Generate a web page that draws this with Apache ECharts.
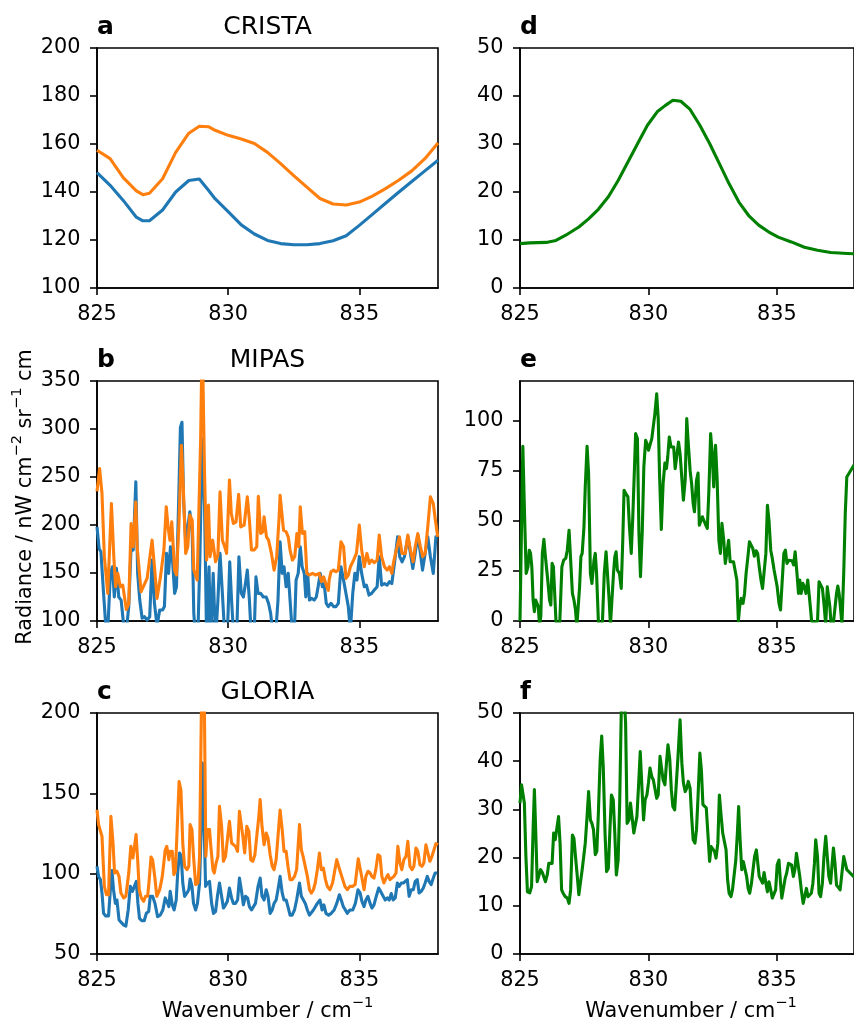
<!DOCTYPE html>
<html><head><meta charset="utf-8">
<script src="https://cdn.jsdelivr.net/npm/echarts@6/dist/echarts.min.js"></script>
<style>html,body{margin:0;padding:0;background:#fff}#c{width:854px;height:1018px}</style>
</head><body><div id="c"></div>
<script>
// ---------------- data ----------------
const xTicks = [825, 830, 835];
const yTicksA = [100, 120, 140, 160, 180, 200];
const yTicksB = [100, 150, 200, 250, 300, 350];
const yTicksC = [50, 100, 150, 200];
const yTicksD = [0, 10, 20, 30, 40, 50];
const yTicksE = [0, 25, 50, 75, 100];
const yTicksF = [0, 10, 20, 30, 40, 50];

const cristaWn = [825,825.5,826,826.5,826.75,827,827.5,828,828.5,828.9,829.25,829.5,830,830.5,831,831.5,832,832.5,833,833.5,834,834.5,835,835.5,836,836.5,837,837.5,838];
const cristaBlue = [148.1,142.8,136.5,129.5,128,128,132.5,140,144.8,145.4,140.7,137.2,131.8,126.3,122.5,119.8,118.5,118,118,118.5,119.7,121.8,126.1,130.7,135.3,139.9,144.4,148.8,153.2];
const cristaOrange = [157.4,153.9,146,140.5,138.9,139.5,145.5,156.5,164.5,167.4,167.2,165.7,163.6,162.1,160.2,156.5,151.8,146.8,142,137.3,135,134.6,135.8,138.3,141.4,144.9,148.8,153.9,160.4];

const cristaDiff = [[825.00,9.24],[825.38,9.4],[826.02,9.5],[826.40,9.9],[826.78,11],[827.29,12.7],[827.67,14.4],[828.05,16.4],[828.44,19],[828.82,22.4],[829.20,26.25],[829.58,30.1],[829.96,33.9],[830.34,36.7],[830.66,38.05],[830.95,39.1],[831.26,38.9],[831.62,37.2],[832.00,33.9],[832.38,30.1],[832.76,25.9],[833.14,21.7],[833.52,17.9],[833.90,15.1],[834.29,13.1],[834.67,11.7],[835.05,10.6],[835.56,9.6],[836.07,8.5],[836.58,7.85],[837.09,7.4],[837.75,7.2],[838.00,7.15]];

const mipasBlue = [[825.00,198],[825.08,175.6],[825.15,172],[825.25,128.8],[825.36,85],[825.41,90],[825.51,149.6],[825.59,156.5],[825.66,125],[825.74,154.8],[825.83,125],[825.92,121.8],[826.02,95],[826.12,90],[826.21,115],[826.30,177.3],[826.38,173.9],[826.48,245],[826.55,149.6],[826.63,121.8],[826.72,102.8],[826.81,104.5],[826.91,101],[827.01,104.5],[827.10,163.5],[827.19,118.4],[827.29,95],[827.39,111.4],[827.50,111.4],[827.57,115],[827.65,170.4],[827.73,149.6],[827.80,177.3],[827.88,163.5],[827.96,128.8],[828.03,135.7],[828.12,232.8],[828.18,301.5],[828.24,307],[828.30,226],[828.39,177.3],[828.46,198],[828.54,213.7],[828.63,191.2],[828.69,108],[828.77,80],[828.85,90],[828.92,163.5],[829.01,290],[829.10,219],[829.18,80],[829.27,156.5],[829.33,80],[829.43,149.6],[829.52,80],[829.61,121.8],[829.69,170.4],[829.78,128.8],[829.87,85],[829.97,85],[830.06,161.7],[830.13,121.8],[830.22,80],[830.32,80],[830.41,167],[830.50,128.8],[830.58,125],[830.66,139],[830.73,153],[830.81,121.8],[830.89,80],[830.99,85],[831.06,146],[831.14,128.8],[831.24,128.8],[831.34,125],[831.45,125],[831.54,118.4],[831.62,108],[831.73,80],[831.82,90],[831.90,121.8],[831.98,182.5],[832.06,149.6],[832.13,156.5],[832.21,135.7],[832.29,149.6],[832.36,121.8],[832.44,90],[832.52,85],[832.59,142.6],[832.67,149.6],[832.75,177.3],[832.82,156.5],[832.90,149.6],[832.96,125],[833.03,149.6],[833.10,121.8],[833.18,123.6],[833.28,121.8],[833.36,125],[833.43,135.7],[833.51,149.6],[833.59,135.7],[833.66,139],[833.74,118.4],[833.82,115],[833.92,118.4],[834.02,115],[834.11,115],[834.20,118.4],[834.30,156.5],[834.40,142.6],[834.49,128.8],[834.58,115],[834.66,90],[834.75,128.8],[834.83,149.6],[834.91,142.6],[835.00,167],[835.09,149.6],[835.19,135.7],[835.27,137.4],[835.37,127],[835.47,128.8],[835.57,132.2],[835.68,135.7],[835.76,167],[835.85,137.4],[835.96,139],[836.06,137.4],[836.15,140.9],[836.24,139],[836.34,160],[836.46,187.7],[836.54,167],[836.63,161.7],[836.72,167],[836.85,187.7],[836.95,170.4],[837.04,154.8],[837.13,170.4],[837.23,189.5],[837.33,170.4],[837.41,153],[837.48,153],[837.61,187.7],[837.71,167],[837.82,149.6],[837.92,187.7],[837.99,187.7]];

const mipasOrange = [[825.00,235],[825.10,258.8],[825.19,232.8],[825.28,167],[825.41,128.8],[825.55,222.4],[825.64,167],[825.71,135.7],[825.79,149.6],[825.89,135.7],[825.98,137.4],[826.12,112],[826.21,118],[826.30,201.6],[826.38,177.3],[826.48,224],[826.53,177.3],[826.68,130.5],[826.91,144.4],[827.10,184.2],[827.19,156.5],[827.29,123.6],[827.42,146],[827.55,173.9],[827.64,219],[827.71,198],[827.78,184],[827.85,203.3],[827.96,153],[828.03,147.9],[828.12,198],[828.22,283],[828.29,239.7],[828.38,170.4],[828.46,177.3],[828.54,210.3],[828.63,205],[828.69,153],[828.82,142.6],[828.95,288],[829.01,400],[829.10,253.6],[829.18,163.5],[829.25,220.7],[829.31,167],[829.41,184.2],[829.52,161.7],[829.61,168.7],[829.69,234.5],[829.78,184.2],[829.87,177.3],[829.94,170.4],[830.05,246.7],[830.12,212],[830.20,201.6],[830.30,203.3],[830.40,232],[830.48,198],[830.61,199.9],[830.73,229.3],[830.81,205],[830.89,173.9],[830.99,173.9],[831.09,177.3],[831.15,230],[831.24,191.2],[831.32,193],[831.37,208.5],[831.46,187.7],[831.54,184.2],[831.65,170.4],[831.75,153],[831.85,167],[831.94,206.8],[831.98,231],[832.11,194.7],[832.21,193],[832.29,187.7],[832.36,173.9],[832.45,163.5],[832.54,167],[832.62,191.2],[832.69,177.3],[832.75,219],[832.83,191.2],[832.92,193],[833.00,149.6],[833.09,147.9],[833.22,149.6],[833.34,147.9],[833.47,149.6],[833.56,140.9],[833.64,146],[833.76,135.7],[833.82,132],[833.85,142.6],[833.92,151.3],[834.02,153],[834.11,151.3],[834.20,153],[834.30,182.5],[834.40,177.3],[834.49,144.4],[834.58,147.9],[834.66,156.5],[834.78,163.5],[834.89,170.4],[835.00,199.9],[835.09,173.9],[835.19,156.5],[835.29,170.4],[835.38,160],[835.47,163.5],[835.57,160.7],[835.68,163.5],[835.76,189.5],[835.85,167],[835.96,156.5],[836.06,153],[836.15,156.5],[836.24,149.6],[836.31,161.7],[836.44,177.3],[836.53,187.7],[836.63,170.4],[836.75,170.4],[836.85,189.5],[836.95,173.9],[837.05,161.7],[837.13,177.3],[837.23,191.2],[837.33,177.3],[837.42,167],[837.51,170.4],[837.61,198],[837.71,229.3],[837.82,222.4],[837.90,205],[837.99,187.7]];

const mipasDiff = [[825.00,0],[825.11,87.4],[825.19,47],[825.24,23.8],[825.31,27.1],[825.36,35.4],[825.41,33.8],[825.46,27.1],[825.51,10.5],[825.56,4.7],[825.61,10.5],[825.66,11.3],[825.71,7.2],[825.76,-2],[825.81,2.2],[825.87,33.8],[825.93,40.8],[825.99,32.1],[826.08,20.5],[826.15,10.5],[826.20,8],[826.25,28.8],[826.30,27.1],[826.35,13.8],[826.40,0],[826.48,-5],[826.55,0],[826.63,27.1],[826.70,30.4],[826.78,31.3],[826.84,35.4],[826.91,45.4],[826.98,45.4],[827.04,13.8],[827.10,10.5],[827.16,5.5],[827.21,-3],[827.26,-3],[827.32,17.1],[827.37,32.1],[827.42,33.8],[827.49,47.1],[827.54,67],[827.61,87.4],[827.67,73.7],[827.74,23.8],[827.80,18.8],[827.88,30.4],[827.93,33.8],[827.98,23.8],[828.05,0],[828.13,-5],[828.21,0],[828.28,23.8],[828.35,34.6],[828.41,34.6],[828.47,10.5],[828.52,-2],[828.59,-2],[828.64,23.8],[828.69,32.1],[828.74,34.6],[828.79,25.5],[828.87,23.8],[828.94,16.3],[829.00,40.4],[829.05,65.4],[829.12,63.7],[829.20,62.1],[829.26,47.1],[829.33,33.8],[829.39,52.1],[829.45,74.5],[829.50,93.7],[829.57,91.2],[829.63,43.8],[829.69,22.1],[829.76,45.4],[829.82,77],[829.89,90.3],[829.94,88.7],[830.00,85.4],[830.06,85.4],[830.13,91.2],[830.19,92],[830.25,103.7],[830.32,113.6],[830.38,101.2],[830.43,73.7],[830.50,45.8],[830.57,68.7],[830.64,79],[830.70,76.2],[830.75,82],[830.81,92],[830.88,87],[830.93,87.4],[830.98,87],[831.04,76.2],[831.11,77],[831.17,89.5],[831.23,83.7],[831.30,71.2],[831.36,60.4],[831.43,70.4],[831.49,101.2],[831.55,88.7],[831.62,75.4],[831.68,68.7],[831.74,58.7],[831.79,54.6],[831.87,70.4],[831.93,74],[831.98,47.9],[832.04,47.1],[832.10,52.1],[832.16,52.1],[832.23,47.9],[832.29,46.3],[832.35,64.6],[832.42,93.7],[832.48,83.7],[832.54,67],[832.61,87.9],[832.67,72],[832.74,40.4],[832.80,33.8],[832.86,48.8],[832.93,40.4],[832.99,28.8],[833.05,33.8],[833.12,40.4],[833.18,29.6],[833.24,28.8],[833.31,29.6],[833.37,29.1],[833.44,20.5],[833.50,0],[833.55,7.2],[833.61,11.3],[833.68,8.8],[833.74,13.8],[833.80,23.8],[833.87,32.1],[833.93,39.6],[834.00,38.8],[834.06,36.3],[834.12,32.4],[834.19,35.1],[834.25,33.8],[834.31,27.1],[834.38,20.5],[834.44,16.3],[834.50,16.3],[834.57,33.8],[834.63,57.9],[834.69,50.4],[834.76,35.4],[834.82,31.3],[834.89,25.5],[834.95,25],[835.01,17.1],[835.08,8.8],[835.14,5.5],[835.20,18.8],[835.27,33.8],[835.33,35.4],[835.39,28.8],[835.46,30.4],[835.52,29.6],[835.59,30.1],[835.65,28],[835.71,34.6],[835.78,23.8],[835.84,13.8],[835.89,20.5],[835.94,13.8],[836.01,18.8],[836.07,17.1],[836.13,13.8],[836.20,20.5],[836.25,13.8],[836.30,7.2],[836.35,0],[836.43,-1],[836.50,-1],[836.58,0],[836.64,19.6],[836.70,20.5],[836.77,16.3],[836.83,8.8],[836.90,-2],[836.96,17.1],[837.01,18],[837.06,7.2],[837.11,-2],[837.19,-2],[837.25,-2],[837.32,13.8],[837.37,17.5],[837.42,13.8],[837.47,7.2],[837.53,-2],[837.60,23.8],[837.66,53.7],[837.72,72],[838.00,78]];

const gloriaBlue = [[825.00,104.6],[825.06,98.3],[825.13,96.3],[825.19,88],[825.25,75.3],[825.33,73.7],[825.44,73.7],[825.51,90],[825.57,101.9],[825.63,90],[825.70,81.5],[825.76,83.6],[825.84,71.2],[825.91,70.1],[826.02,68],[826.10,67.4],[826.19,77.4],[826.27,92.1],[826.35,89],[826.42,90],[826.50,95.2],[826.56,81.5],[826.62,72.2],[826.71,70.7],[826.80,70.7],[826.88,75.3],[826.97,76.4],[827.03,85.9],[827.12,85.9],[827.21,81.5],[827.31,73.2],[827.41,74.2],[827.51,77.4],[827.60,84.9],[827.66,82.8],[827.74,79.5],[827.79,89],[827.87,80.6],[827.94,77.4],[828.02,83.6],[828.08,101.5],[828.15,112.9],[828.21,110.8],[828.27,94.2],[828.34,85.9],[828.43,88],[828.50,90],[828.55,96.7],[828.62,92.1],[828.68,81.5],[828.76,77.4],[828.83,81.5],[828.91,94.2],[828.99,137.8],[829.02,168.9],[829.07,139.8],[829.14,92.1],[829.21,94.2],[829.29,95.2],[829.37,81.5],[829.44,75.3],[829.52,76.4],[829.59,85.9],[829.67,94.2],[829.75,85.9],[829.82,78.6],[829.90,80.6],[829.97,82.8],[830.05,91.1],[830.13,84.9],[830.20,81.5],[830.28,81.5],[830.36,83.6],[830.43,97.3],[830.51,89],[830.58,80.6],[830.66,85.9],[830.74,84.9],[830.81,79.5],[830.89,77.4],[830.96,78.6],[831.04,81.5],[831.14,92.1],[831.22,97.3],[831.29,85.9],[831.37,83.6],[831.45,90],[831.52,85.9],[831.60,75.3],[831.68,77.4],[831.75,81.5],[831.83,83.6],[831.90,90],[831.98,98.3],[832.06,88],[832.13,83.6],[832.21,83.6],[832.28,79.5],[832.36,74.2],[832.44,74.2],[832.53,77.4],[832.61,83.6],[832.72,94.2],[832.79,85.9],[832.87,83.6],[832.94,81.5],[833.02,77.4],[833.10,74.2],[833.17,74.2],[833.25,77.4],[833.32,77.4],[833.40,81.5],[833.50,83.6],[833.58,77.4],[833.65,80.6],[833.73,75.3],[833.83,74.2],[833.93,75.3],[834.04,77.4],[834.14,81.5],[834.24,86.9],[834.31,83.6],[834.39,79.5],[834.47,77.4],[834.54,75.3],[834.64,77.4],[834.75,77.4],[834.85,81.5],[834.95,90],[835.03,88],[835.10,82.8],[835.18,79.5],[835.25,83.6],[835.33,85.9],[835.41,81.5],[835.48,78.6],[835.56,80.6],[835.63,84.9],[835.74,91.1],[835.81,89],[835.91,85.9],[835.99,83.6],[836.07,84.9],[836.14,83.6],[836.22,87.6],[836.29,83.6],[836.37,84.9],[836.45,94.2],[836.52,92.1],[836.60,94.2],[836.68,94.2],[836.75,93.2],[836.83,96.3],[836.90,85.9],[836.98,90],[837.06,90],[837.13,95.2],[837.21,96.3],[837.28,88],[837.36,89],[837.44,91.1],[837.51,94.2],[837.59,98.3],[837.66,95.2],[837.74,93.2],[837.82,97.3],[837.89,100.4],[837.97,100.4]];

const gloriaOrange = [[825.00,139.8],[825.06,130.5],[825.13,131.1],[825.19,123.2],[825.28,92.1],[825.36,86.9],[825.44,86.9],[825.53,135.7],[825.61,119.1],[825.67,100.4],[825.76,101.5],[825.84,98.3],[825.91,88],[826.02,84.9],[826.10,85.9],[826.21,100.4],[826.29,117],[826.37,109.8],[826.42,108.7],[826.49,124.3],[826.55,108.7],[826.61,90],[826.69,84.9],[826.78,82.8],[826.85,85.9],[826.93,85.9],[826.98,94.2],[827.06,110.4],[827.12,108.7],[827.20,98.3],[827.28,85.9],[827.39,90],[827.49,98.3],[827.60,114.7],[827.66,117],[827.74,108.7],[827.79,113.9],[827.87,113.9],[827.93,99.4],[827.99,101.5],[828.07,133.4],[828.13,157.3],[828.20,152.1],[828.27,118.9],[828.34,104.6],[828.43,102.5],[828.50,104.6],[828.55,130.5],[828.62,127.4],[828.68,110.8],[828.76,93.2],[828.85,94.2],[828.91,110.8],[828.99,215],[829.09,210],[829.15,110.8],[829.21,127.4],[829.29,127.4],[829.34,117],[829.42,102.5],[829.47,100.4],[829.54,106.6],[829.61,110.8],[829.67,141.9],[829.75,129.5],[829.82,107.7],[829.90,110.8],[829.97,121.2],[830.05,132.6],[830.13,119.1],[830.20,119.1],[830.28,117],[830.36,113.9],[830.43,138.8],[830.49,137.8],[830.56,123.2],[830.63,112.9],[830.71,129.5],[830.79,126.3],[830.86,108.7],[830.94,107.7],[831.02,111.8],[831.09,123.2],[831.17,135.7],[831.22,146.1],[831.29,129.5],[831.37,118],[831.45,125.3],[831.52,122.2],[831.60,111.8],[831.68,104.6],[831.75,102.5],[831.83,108.7],[831.90,123.2],[831.98,139.6],[832.06,127.4],[832.13,113.9],[832.21,113.9],[832.28,104.6],[832.36,96.3],[832.44,96.3],[832.53,98.3],[832.61,102.5],[832.72,130.5],[832.79,114.9],[832.87,109.8],[832.94,110.8],[833.02,98.3],[833.10,90],[833.17,87.9],[833.25,90],[833.32,94.2],[833.40,102.5],[833.48,112.9],[833.55,102.5],[833.63,103.5],[833.71,96.3],[833.78,92.1],[833.88,90],[833.98,94.2],[834.06,101.5],[834.14,108.7],[834.21,104.6],[834.29,100.4],[834.37,96.3],[834.45,92.1],[834.54,90],[834.64,92.1],[834.75,92.1],[834.84,93.2],[834.90,94.2],[834.96,109.3],[835.03,108.7],[835.10,97.3],[835.18,90],[835.25,98.3],[835.33,101.5],[835.41,100.4],[835.48,98.3],[835.56,97.3],[835.63,102.5],[835.71,111.8],[835.79,110.8],[835.86,98.3],[835.94,94.2],[836.02,97.3],[836.09,99.4],[836.17,96.3],[836.24,96.3],[836.32,98.3],[836.40,100.4],[836.47,117],[836.55,106.6],[836.62,102.5],[836.70,108.7],[836.78,110.8],[836.85,120.1],[836.93,104.6],[837.01,102.5],[837.08,104.6],[837.16,116],[837.23,113.9],[837.31,105.6],[837.39,104.6],[837.46,106.6],[837.54,118],[837.61,119.1],[837.69,107.7],[837.77,110.8],[837.84,111.8],[837.92,118.7],[838.00,118]];

const gloriaDiff = [[825.00,31.3],[825.06,35.1],[825.10,34.8],[825.17,31.3],[825.23,20.2],[825.29,12.9],[825.38,12.7],[825.45,14],[825.51,25.8],[825.56,34.1],[825.61,25.8],[825.67,15],[825.74,15.4],[825.80,17.5],[825.87,16.9],[825.93,17.1],[825.99,15],[826.06,16.4],[826.12,18.8],[826.18,18.5],[826.25,18.8],[826.31,25.1],[826.37,23.7],[826.44,24],[826.50,28.5],[826.56,23],[826.62,13.3],[826.68,12.6],[826.76,11.9],[826.84,11.6],[826.91,10.5],[826.97,13.3],[827.04,24.7],[827.10,24],[827.16,20.2],[827.23,16.1],[827.29,12.3],[827.35,14.7],[827.42,17.5],[827.48,20.2],[827.54,23],[827.61,28.5],[827.67,33.7],[827.74,27.8],[827.80,27.1],[827.86,25.8],[827.93,20.6],[827.99,21.3],[828.05,29.2],[828.12,40.3],[828.18,45.2],[828.24,38.9],[828.31,25.1],[828.37,17.1],[828.44,17.8],[828.50,25.8],[828.56,33],[828.63,32],[828.69,25.1],[828.75,16.4],[828.82,19.5],[828.88,31.3],[828.94,50],[829.01,56],[829.07,52],[829.11,48],[829.17,27.1],[829.24,27.8],[829.30,31.3],[829.36,28.5],[829.43,25.1],[829.49,24.7],[829.55,28.5],[829.62,35.5],[829.68,42],[829.75,34.1],[829.81,27.8],[829.87,32],[829.94,33],[830.00,35.5],[830.06,38.6],[830.13,36.8],[830.19,36.1],[830.25,35.8],[830.32,32.3],[830.38,33],[830.45,41],[830.51,41.3],[830.57,36.1],[830.64,35.1],[830.70,39.6],[830.76,43.4],[830.83,40.3],[830.89,34.1],[830.95,30.6],[831.02,29.9],[831.08,30.3],[831.15,41],[831.23,48.6],[831.30,39.6],[831.36,35.5],[831.43,33.7],[831.49,34.4],[831.55,35.8],[831.62,34.4],[831.68,28.5],[831.74,23.7],[831.81,23],[831.87,25.8],[831.93,32.7],[832.00,41.7],[832.06,38.2],[832.12,31],[832.19,30.6],[832.25,30.3],[832.32,24.4],[832.38,19.2],[832.44,22.3],[832.51,22.6],[832.57,21.3],[832.63,19.9],[832.70,23],[832.76,33],[832.82,29.2],[832.89,25.1],[832.95,25.1],[833.02,21.6],[833.08,15.4],[833.14,12.6],[833.21,11.9],[833.27,13.3],[833.33,13.6],[833.40,19.5],[833.46,25.1],[833.51,30.6],[833.56,24.4],[833.63,17.5],[833.69,19.2],[833.75,19.5],[833.82,16.1],[833.88,13.6],[833.94,12.6],[834.01,14.7],[834.07,17.5],[834.13,20.2],[834.20,21.6],[834.26,22],[834.31,16.1],[834.38,16.4],[834.44,14.7],[834.50,16.9],[834.57,14.7],[834.63,12.9],[834.69,15],[834.76,13.3],[834.82,11.6],[834.89,11.2],[834.95,13.3],[835.01,18.5],[835.08,19.5],[835.14,14.7],[835.19,11.6],[835.25,11.9],[835.32,15.7],[835.38,16.8],[835.45,18.8],[835.51,18.8],[835.57,18.5],[835.64,16.1],[835.70,17.5],[835.76,20.9],[835.83,21.3],[835.89,16.1],[835.95,13.3],[836.02,10.5],[836.08,11.9],[836.15,13.6],[836.21,11.9],[836.27,11.9],[836.34,12.6],[836.40,14.7],[836.46,18.8],[836.51,23.7],[836.58,20.2],[836.64,12.6],[836.70,11.9],[836.77,14.7],[836.83,20.2],[836.90,24.4],[836.96,20.2],[837.02,16.1],[837.09,14.7],[837.15,18.8],[837.20,22],[837.26,18.8],[837.32,14.3],[837.39,14],[837.46,13.3],[837.52,13.3],[837.60,20.2],[837.67,19.9],[837.72,17.5],[838.00,16]];

// ---------------- chart ----------------
const FONT = "'DejaVu Sans', sans-serif";
const BLUE = '#1f77b4', ORANGE = '#ff7f0e', GREEN = '#008000';

const panels = [
  {grid:{left:97, top:48, width:341, height:240}, y:[100,200,20], yt:yTicksA, letter:'a', title:'CRISTA',
   series:[{d:cristaWn.map((w,i)=>[w,cristaBlue[i]]), c:BLUE},{d:cristaWn.map((w,i)=>[w,cristaOrange[i]]), c:ORANGE}]},
  {grid:{left:97, top:381, width:341, height:240}, y:[100,350,50], yt:yTicksB, letter:'b', title:'MIPAS',
   series:[{d:mipasBlue, c:BLUE},{d:mipasOrange, c:ORANGE}]},
  {grid:{left:97, top:713, width:341, height:241}, y:[50,200,50], yt:yTicksC, letter:'c', title:'GLORIA',
   series:[{d:gloriaBlue, c:BLUE},{d:gloriaOrange, c:ORANGE}]},
  {grid:{left:520, top:48, width:341, height:240}, y:[0,50,10], yt:yTicksD, letter:'d', title:'',
   series:[{d:cristaDiff, c:GREEN}]},
  {grid:{left:520, top:381, width:341, height:240}, y:[0,120,25], yt:yTicksE, letter:'e', title:'',
   series:[{d:mipasDiff, c:GREEN}]},
  {grid:{left:520, top:713, width:341, height:241}, y:[0,50,10], yt:yTicksF, letter:'f', title:'',
   series:[{d:gloriaDiff, c:GREEN}]}
];

const axisCommon = {
  axisLine:{show:true, onZero:false, lineStyle:{color:'#000', width:1.6}},
  splitLine:{show:false}
};

const grids = [], xAxes = [], yAxes = [], series = [], graphics = [];
panels.forEach((p, i) => {
  grids.push(Object.assign({show:true, borderColor:'#000', borderWidth:1.6, backgroundColor:'transparent', containLabel:false}, p.grid));
  xAxes.push(Object.assign({}, axisCommon, {
    type:'value', gridIndex:i, min:825, max:838, interval:5, position:'bottom',
    axisTick:{show:true, length:7, lineStyle:{color:'#000', width:1.6}, customValues:xTicks},
    axisLabel:{fontSize:20.8, color:'#000', fontFamily:FONT, margin:16, customValues:xTicks}
  }));
  yAxes.push(Object.assign({}, axisCommon, {
    type:'value', gridIndex:i, min:p.y[0], max:p.y[1], interval:p.y[2], position:'left',
    axisTick:{show:true, length:7, lineStyle:{color:'#000', width:1.6}, customValues:p.yt},
    axisLabel:{fontSize:20.8, color:'#000', fontFamily:FONT, margin:16.5, padding:[4,0,0,0], customValues:p.yt}
  }));
  p.series.forEach(s => {
    series.push({type:'line', xAxisIndex:i, yAxisIndex:i, data:s.d, showSymbol:false, symbol:'none',
      clip:true, lineStyle:{color:s.c, width:3.1, join:'round'}, itemStyle:{color:s.c}, silent:true});
  });
  const cy = p.grid.top - 21;
  graphics.push({type:'text', x:p.grid.left, y:cy, style:{text:p.letter, fontSize:25, fontWeight:'bold', fontFamily:FONT, fill:'#000', align:'left', verticalAlign:'middle'}});
  if (p.title) graphics.push({type:'text', x:p.grid.left + p.grid.width/2, y:cy, style:{text:p.title, fontSize:25, fontFamily:FONT, fill:'#000', align:'center', verticalAlign:'middle'}});
});

const richLab = {
  n:{fontSize:20.8, fontFamily:FONT, color:'#000', lineHeight:27, verticalAlign:'bottom'},
  s:{fontSize:14.6, fontFamily:FONT, color:'#000', lineHeight:15, verticalAlign:'top'}
};
graphics.push({type:'text', x:23, y:497, rotation:Math.PI/2,
  style:{text:'{n|Radiance / nW cm}{s|\u22122}{n| sr}{s|\u22121}{n| cm}', rich:richLab, align:'center', verticalAlign:'middle', fill:'#000', fontFamily:FONT, fontSize:20.8}});
[267.5, 691].forEach(cx => {
  graphics.push({type:'text', x:cx, y:1009,
    style:{text:'{n|Wavenumber / cm}{s|\u22121}', rich:richLab, align:'center', verticalAlign:'middle', fill:'#000', fontFamily:FONT, fontSize:20.8}});
});

const chart = echarts.init(document.getElementById('c'), null, {renderer:'canvas'});
chart.setOption({
  animation:false,
  backgroundColor:'#fff',
  textStyle:{fontFamily:FONT},
  grid:grids, xAxis:xAxes, yAxis:yAxes, series:series, graphic:graphics
});
</script>
</body></html>
